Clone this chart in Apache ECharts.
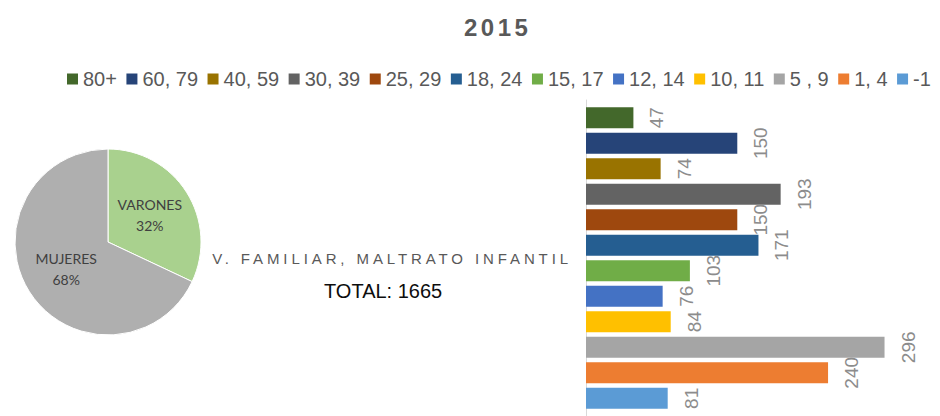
<!DOCTYPE html>
<html>
<head>
<meta charset="utf-8">
<script src="https://cdn.jsdelivr.net/npm/echarts@6/dist/echarts.min.js"></script>
<style>
  html, body { margin: 0; padding: 0; background: #ffffff; }
  #chart { width: 940px; height: 416px; }
</style>
</head>
<body>
<div id="chart"></div>
<script>
// Year shown as the heading
const year = '2015';
// Single category of the bar chart
const category = ['V. FAMILIAR, MALTRATO INFANTIL'];
// Age groups, top to bottom
const ageGroups = ['80+', '60, 79', '40, 59', '30, 39', '25, 29', '18, 24',
                   '15, 17', '12, 14', '10, 11', '5 , 9', '1, 4', '-1'];
// Cases per age group
const counts = [47, 150, 74, 193, 150, 171, 103, 76, 84, 296, 240, 81];
const barColors = ['#43682B', '#264478', '#997300', '#636363', '#9E480E', '#255E91',
                   '#70AD47', '#4472C4', '#FFC000', '#A5A5A5', '#ED7D31', '#5B9BD5'];
// Split by sex (percent)
const sexLabels = ['VARONES', 'MUJERES'];
const sexShares = [32, 68];
const sexColors = ['#A9D18E', '#AFAFAF'];

const total = counts.reduce((a, b) => a + b, 0);
const FONT = '"Liberation Sans", Arial, sans-serif';

const chart = echarts.init(document.getElementById('chart'), null,
  { renderer: 'svg', width: 940, height: 416 });

const barSeries = ageGroups.map((name, i) => ({
  name: name,
  type: 'bar',
  data: [counts[i]],
  barWidth: 21,
  barGap: '21.5%',
  itemStyle: { color: barColors[i] },
  label: {
    show: true,
    position: 'right',
    distance: 14,
    rotate: 90,
    align: 'center',
    verticalAlign: 'top',
    fontSize: 19,
    fontFamily: FONT,
    color: '#8C8C8C'
  },
  emphasis: { disabled: true }
}));

const pieSeries = {
  type: 'pie',
  center: [108, 242],
  radius: 93,
  startAngle: 90,
  clockwise: true,
  silent: true,
  itemStyle: { borderColor: '#ffffff', borderWidth: 1 },
  label: {
    show: true,
    position: 'inside',
    formatter: '{b}\n{d}%',
    fontFamily: 'Lato, "Open Sans", sans-serif',
    fontSize: 14,
    lineHeight: 21,
    color: '#404040'
  },
  labelLine: { show: false },
  data: sexLabels.map((n, i) => ({ name: n, value: sexShares[i], itemStyle: { color: sexColors[i] } }))
};

chart.setOption({
  animation: false,
  backgroundColor: '#ffffff',
  title: [
    {
      text: year,
      left: 459,
      top: 10,
      textStyle: { fontSize: 24, fontWeight: 'bold', color: '#595959', fontFamily: FONT }
    },
    {
      text: 'TOTAL: ' + total,
      left: 319,
      top: 276,
      textStyle: { fontSize: 20, fontWeight: 'normal', color: '#0D0D0D', fontFamily: FONT }
    }
  ],
  legend: {
    data: ageGroups,
    left: 62,
    top: 64,
    icon: 'rect',
    itemWidth: 11,
    itemHeight: 11,
    itemGap: 9.5,
    selectedMode: false,
    textStyle: { fontSize: 20, color: '#595959', fontFamily: FONT }
  },
  grid: { left: 586, right: 1, top: 100, bottom: 0, outerBoundsMode: 'none' },
  xAxis: { type: 'value', min: 0, max: 350, show: false },
  yAxis: {
    type: 'category',
    data: category,
    axisLine: { show: true, lineStyle: { color: '#D9D9D9', width: 1 } },
    axisTick: { show: false },
    axisLabel: { margin: 14, fontSize: 15, color: '#595959', fontFamily: FONT }
  },
  series: barSeries.concat([pieSeries])
});

// Widen the tracking of the heading and the category name
function spaceText() {
  document.querySelectorAll('#chart svg text').forEach(t => {
    const s = t.textContent;
    if (s === category[0]) t.setAttribute('letter-spacing', '3.9');
    else if (s === year) t.setAttribute('letter-spacing', '3.5');
  });
}
chart.on('finished', spaceText);
spaceText();
</script>
</body>
</html>
